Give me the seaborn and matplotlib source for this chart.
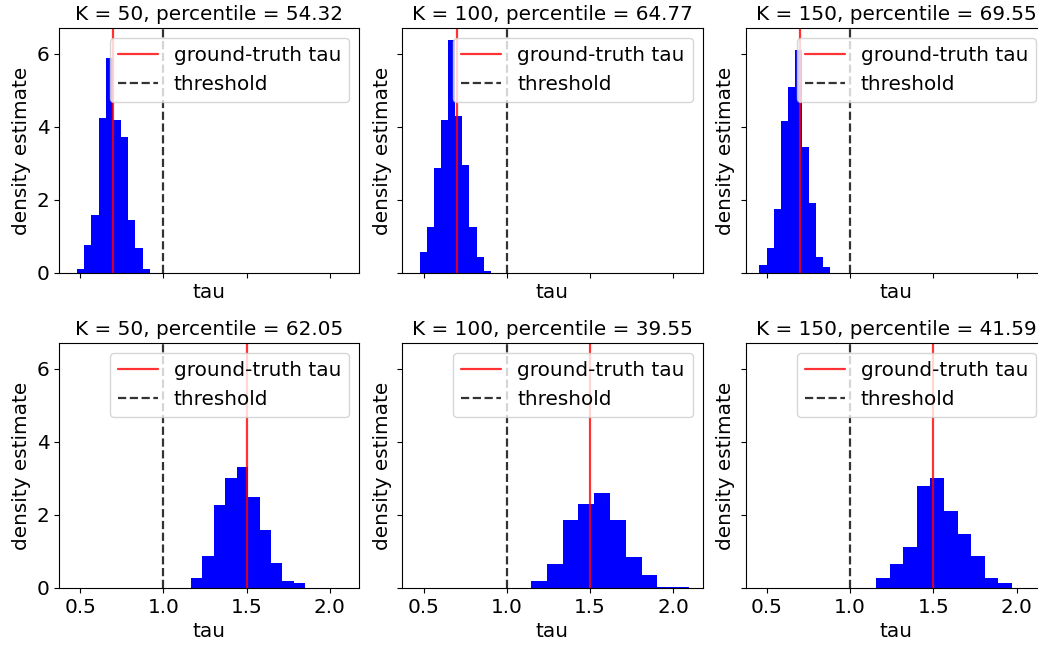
import numpy as np
import pandas as pd
import seaborn as sns
import matplotlib
matplotlib.use("Agg")
import matplotlib.pyplot as plt

# values
K_values = [50, 100, 150]
top_percentiles = [54.32, 64.77, 69.55]
bottom_percentiles = [62.05, 39.55, 41.59]
true_tau_top = 0.7
true_tau_bottom = 1.5
threshold = 1.0

# histogram bin ranges (tau) and density heights, 10 bins each
top_bin_lo = [0.480, 0.480, 0.455]
top_bin_hi = [0.920, 0.903, 0.879]
top_heights = [
    [0.11, 0.77, 1.59, 4.23, 5.88, 4.18, 3.72, 1.45, 0.68, 0.10],
    [0.56, 1.25, 2.88, 4.17, 6.38, 4.30, 2.95, 1.25, 0.43, 0.06],
    [0.22, 0.68, 1.75, 4.15, 5.09, 6.11, 3.45, 1.90, 0.43, 0.17],
]
bottom_bin_lo = [1.166, 1.146, 1.157]
bottom_bin_hi = [1.852, 2.094, 1.970]
bottom_heights = [
    [0.26, 0.87, 2.26, 3.00, 3.30, 2.48, 1.59, 0.69, 0.18, 0.14],
    [0.20, 0.65, 1.87, 2.30, 2.61, 1.85, 0.85, 0.35, 0.04, 0.04],
    [0.26, 0.65, 1.13, 2.78, 3.00, 2.11, 1.47, 0.87, 0.26, 0.14],
]

# plain matplotlib look: black spines/text, short ticks
sns.set_style("ticks", {
    "axes.edgecolor": "black", "text.color": "black", "axes.labelcolor": "black",
    "xtick.color": "black", "ytick.color": "black",
    "xtick.major.size": 3.5, "ytick.major.size": 3.5,
})
plt.rcParams["font.family"] = ["DejaVu Sans"]
plt.rcParams["font.size"] = 14.4
plt.rcParams["axes.linewidth"] = 0.8
plt.rcParams["xtick.major.width"] = 0.8
plt.rcParams["ytick.major.width"] = 0.8

fig, axes = plt.subplots(2, 3, figsize=(10.38, 6.47), dpi=100, sharex=True, sharey=True)
fig.subplots_adjust(left=0.0568, right=1.0077, top=0.9567, bottom=0.0912,
                    wspace=0.144, hspace=0.286)


def draw_panel(ax, lo, hi, heights, tau, K, pct):
    edges = [float(e) for e in np.linspace(lo, hi, len(heights) + 1)]
    centers = [(a + b) / 2 for a, b in zip(edges[:-1], edges[1:])]
    df = pd.DataFrame({"tau": centers, "density": heights})
    sns.histplot(data=df, x="tau", weights="density", bins=edges, stat="count",
                 color="blue", alpha=1, linewidth=0, ax=ax)
    ax.axvline(tau, color="red", alpha=0.8, lw=1.6, label="ground-truth tau")
    ax.axvline(threshold, color="black", alpha=0.8, lw=1.6, ls="--", label="threshold")
    ax.set_title(f"K = {K}, percentile = {pct:.2f}", fontsize=14.4)
    ax.set_xlabel("tau")
    ax.set_ylabel("density estimate")
    ax.xaxis.label.set_visible(True)
    ax.yaxis.label.set_visible(True)
    ax.legend(loc="upper right")


for i in range(3):
    draw_panel(axes[0, i], top_bin_lo[i], top_bin_hi[i], top_heights[i],
               true_tau_top, K_values[i], top_percentiles[i])
    draw_panel(axes[1, i], bottom_bin_lo[i], bottom_bin_hi[i], bottom_heights[i],
               true_tau_bottom, K_values[i], bottom_percentiles[i])

for ax in axes.flat:
    ax.xaxis.set_tick_params(labelbottom=ax in axes[1])
    ax.set_xticks([0.5, 1.0, 1.5, 2.0])
    ax.set_yticks([0, 2, 4, 6])

fig.savefig("out.png", dpi=100)
